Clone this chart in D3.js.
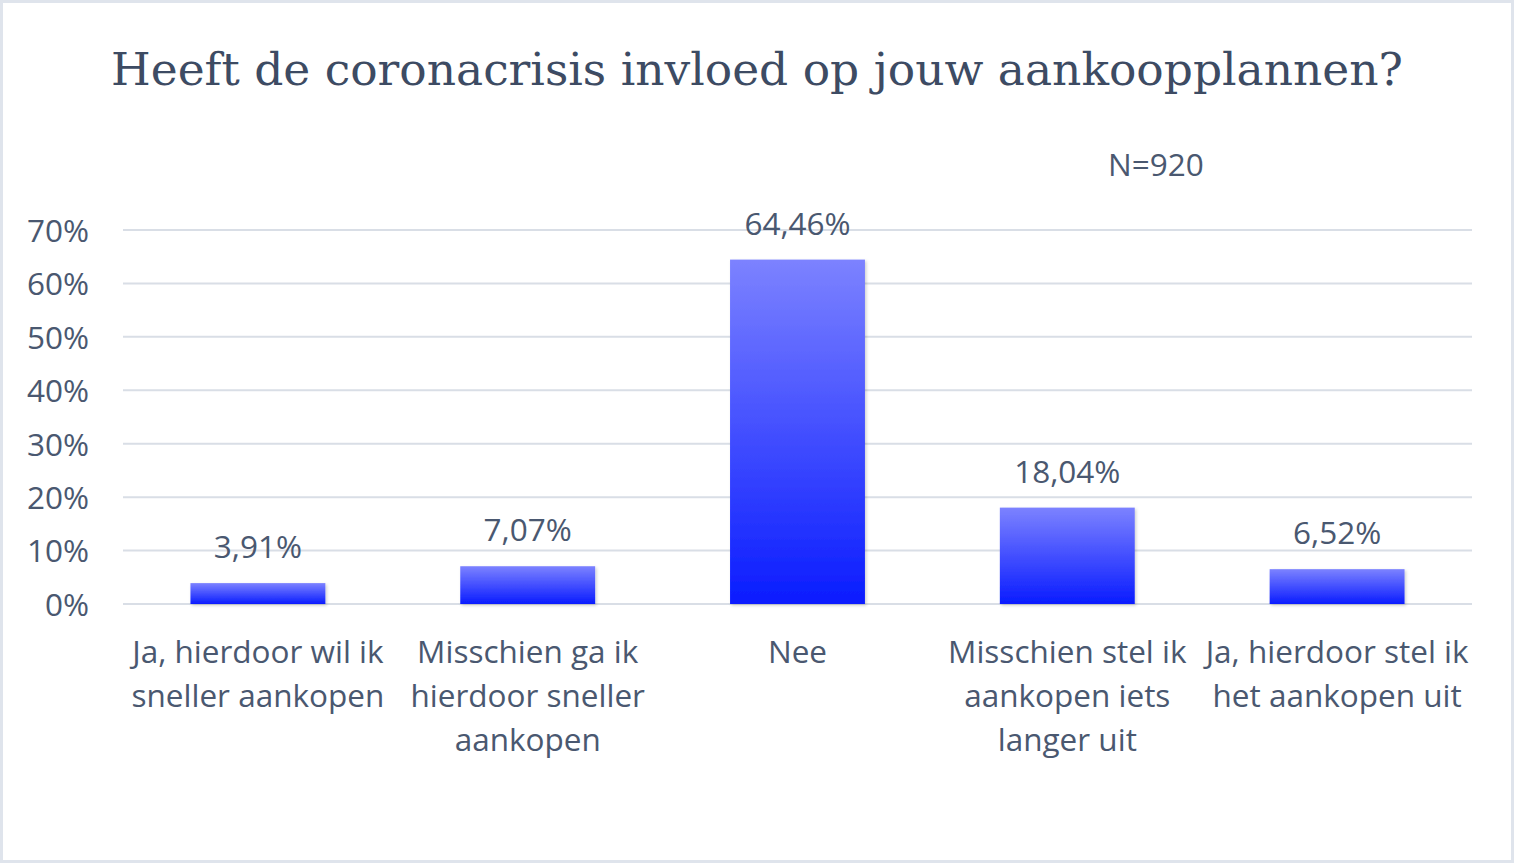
<!DOCTYPE html>
<html><head><meta charset="utf-8">
<script src="https://cdn.jsdelivr.net/npm/d3@7"></script>
<style>
html,body{margin:0;padding:0;background:#fff;}
svg{display:block;}
</style></head>
<body><svg id="chart" width="1514" height="863"></svg>
<script>
const title = "Heeft de coronacrisis invloed op jouw aankoopplannen?";
const note = "N=920";
const categories = [
  ["Ja, hierdoor wil ik", "sneller aankopen"],
  ["Misschien ga ik", "hierdoor sneller", "aankopen"],
  ["Nee"],
  ["Misschien stel ik", "aankopen iets", "langer uit"],
  ["Ja, hierdoor stel ik", "het aankopen uit"]
];
const values = [3.91, 7.07, 64.46, 18.04, 6.52];
const valueLabels = ["3,91%", "7,07%", "64,46%", "18,04%", "6,52%"];
const yTicks = [0, 10, 20, 30, 40, 50, 60, 70];

const svg = d3.select("#chart");
const W = 1514, H = 863;
const textColor = "#4a5870";
const font = "'Open Sans', 'Noto Sans', sans-serif";
const fs = 31.5;

// frame
svg.append("rect").attr("x", 1.5).attr("y", 1.5).attr("width", W - 3).attr("height", H - 3)
  .attr("fill", "#fff").attr("stroke", "#dfe4ec").attr("stroke-width", 3);

const defs = svg.append("defs");
const grad = defs.append("linearGradient").attr("id", "barGrad")
  .attr("x1", 0).attr("y1", 0).attr("x2", 0).attr("y2", 1);
grad.append("stop").attr("offset", "0%").attr("stop-color", "#7c82ff");
grad.append("stop").attr("offset", "100%").attr("stop-color", "#0a1cff");
const filt = defs.append("filter").attr("id", "shadow").attr("x", "-10%").attr("y", "-10%").attr("width", "130%").attr("height", "130%");
filt.append("feDropShadow").attr("dx", 1.5).attr("dy", 1.5).attr("stdDeviation", 1.5)
  .attr("flood-color", "#000").attr("flood-opacity", 0.18);

const left = 123, right = 1472;
const x = d3.scaleBand().domain(d3.range(categories.length)).range([left, right]).paddingInner(0.5).paddingOuter(0.25);
const y = d3.scaleLinear().domain([0, 70]).range([604, 230]);

// title
svg.append("text").attr("x", 757).attr("y", 85).attr("text-anchor", "middle")
  .attr("font-family", "'DejaVu Serif', serif").attr("font-size", 45.5)
  .attr("fill", "#3d4b63").text(title);

// gridlines
svg.append("g").selectAll("line").data(yTicks).join("line")
  .attr("x1", left).attr("x2", right)
  .attr("y1", d => y(d)).attr("y2", d => y(d))
  .attr("stroke", "#d9dee6").attr("stroke-width", 2);

// y axis labels
const yAxis = d3.axisLeft(y).tickValues(yTicks).tickFormat(d => d + "%").tickSize(0).tickPadding(0);
const yg = svg.append("g").attr("transform", `translate(89,0)`).call(yAxis);
yg.select(".domain").remove();
yg.selectAll("text").attr("font-family", font).attr("font-size", fs).attr("fill", textColor).attr("dy", "0.36em");

// bars
svg.append("g").selectAll("rect").data(values).join("rect")
  .attr("x", (d, i) => x(i)).attr("width", x.bandwidth())
  .attr("y", d => y(d)).attr("height", d => y(0) - y(d))
  .attr("fill", "url(#barGrad)").attr("filter", "url(#shadow)");

// value labels
svg.append("g").selectAll("text").data(values).join("text")
  .attr("x", (d, i) => x(i) + x.bandwidth() / 2)
  .attr("y", d => y(d) - 25)
  .attr("text-anchor", "middle").attr("font-family", font).attr("font-size", fs)
  .attr("fill", textColor).text((d, i) => valueLabels[i]);

// x labels
const xl = svg.append("g").selectAll("text").data(categories).join("text")
  .attr("x", (d, i) => x(i) + x.bandwidth() / 2).attr("y", 663)
  .attr("text-anchor", "middle").attr("font-family", font).attr("font-size", fs)
  .attr("fill", textColor);
xl.selectAll("tspan").data((d, i) => d.map(s => ({s, i}))).join("tspan")
  .attr("x", d => x(d.i) + x.bandwidth() / 2)
  .attr("dy", (d, j) => j === 0 ? 0 : 44).text(d => d.s);

// note
svg.append("text").attr("x", 1156).attr("y", 176).attr("text-anchor", "middle")
  .attr("font-family", font).attr("font-size", fs).attr("fill", textColor).text(note);
</script>
</body></html>
